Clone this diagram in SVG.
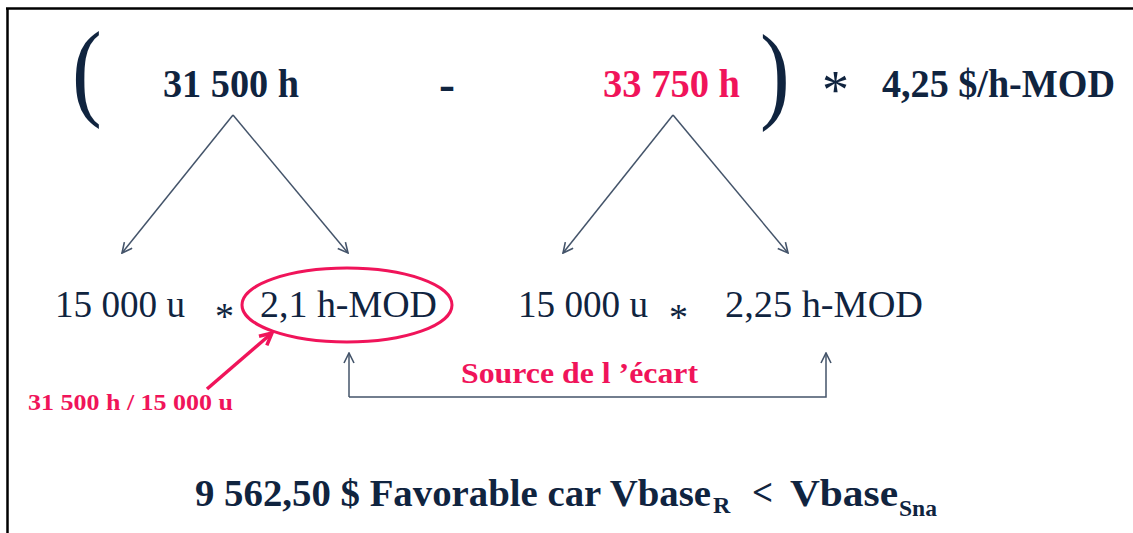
<svg xmlns="http://www.w3.org/2000/svg" width="1133" height="533" viewBox="0 0 1133 533">
<defs>
<style>
.t{font-family:"Liberation Serif","Times New Roman",serif;fill:#10243f}
.b{font-weight:bold}
.p{fill:#f0145a}
.con{fill:none;stroke:#44546a;stroke-width:1.5}
</style>
<marker id="ah" viewBox="0 0 12 12" refX="11" refY="6" markerWidth="12" markerHeight="12" markerUnits="userSpaceOnUse" orient="auto">
<path d="M1,1 L11,6 L1,11" fill="none" stroke="#44546a" stroke-width="1.6"/>
</marker>
<marker id="ahp" viewBox="0 0 16 16" refX="14" refY="8" markerWidth="16" markerHeight="16" markerUnits="userSpaceOnUse" orient="auto">
<path d="M2,2 L14,8 L2,14" fill="none" stroke="#f0145a" stroke-width="3.5"/>
</marker>
</defs>
<rect width="1133" height="533" fill="#ffffff"/>
<g id="frame">
<line x1="7.5" y1="8" x2="7.5" y2="533" stroke="#000" stroke-width="2.5"/>
<line x1="6" y1="8.5" x2="1133" y2="8.5" stroke="#000" stroke-width="2.5"/>
</g>
<g id="top-row">
<text class="t" transform="translate(72,0) scale(0.82,1)" x="0" y="106" font-size="109">(</text>
<text id="n-31500" class="t b" x="163" y="97" font-size="40" textLength="136" lengthAdjust="spacingAndGlyphs">31 500 h</text>
<text class="t b" x="439" y="100" font-size="48">-</text>
<text id="n-33750" class="t b p" x="603" y="97" font-size="40" textLength="137" lengthAdjust="spacingAndGlyphs">33 750 h</text>
<text class="t" transform="translate(760,0) scale(0.82,1)" x="0" y="109" font-size="109">)</text>
<text class="t" x="822" y="108" font-size="54">*</text>
<text id="n-rate" class="t b" x="882" y="97" font-size="40" textLength="233" lengthAdjust="spacingAndGlyphs">4,25 $/h-MOD</text>
</g>
<g id="left-row">
<text id="n-qty-r" class="t" x="55" y="317" font-size="38" textLength="130" lengthAdjust="spacingAndGlyphs">15 000 u</text>
<text class="t" x="215" y="329" font-size="38">*</text>
<text id="n-hr-r" class="t" x="260" y="317" font-size="38" textLength="177" lengthAdjust="spacingAndGlyphs">2,1 h-MOD</text>
<ellipse cx="347" cy="305" rx="105" ry="37" fill="none" stroke="#f0145a" stroke-width="3"/>
</g>
<g id="right-row">
<text id="n-qty-s" class="t" x="518" y="317" font-size="38" textLength="130" lengthAdjust="spacingAndGlyphs">15 000 u</text>
<text class="t" x="669" y="330" font-size="38">*</text>
<text id="n-hr-s" class="t" x="725" y="317" font-size="38" textLength="198" lengthAdjust="spacingAndGlyphs">2,25 h-MOD</text>
</g>
<g id="note">
<text class="t b p" x="28" y="410" font-size="23" textLength="205" lengthAdjust="spacingAndGlyphs">31 500 h / 15 000 u</text>
</g>
<g id="source">
<text class="t b p" x="461" y="383" font-size="30" textLength="237" lengthAdjust="spacingAndGlyphs">Source de l ’écart</text>
</g>
<g id="result">
<text class="t b" x="195" y="506" font-size="37" textLength="516" lengthAdjust="spacingAndGlyphs">9 562,50 $ Favorable  car Vbase</text>
<text class="t b" x="713" y="513" font-size="24">R</text>
<text class="t b" x="752" y="505" font-size="37">&lt;</text>
<text class="t b" x="790" y="506" font-size="37" textLength="108" lengthAdjust="spacingAndGlyphs">Vbase</text>
<text class="t b" x="899" y="516" font-size="24" textLength="38" lengthAdjust="spacingAndGlyphs">Sna</text>
</g>
<g id="connectors">
<line class="con" x1="233" y1="115" x2="122" y2="253" marker-end="url(#ah)"/>
<line class="con" x1="233" y1="115" x2="348" y2="253" marker-end="url(#ah)"/>
<line class="con" x1="673" y1="115" x2="563" y2="253" marker-end="url(#ah)"/>
<line class="con" x1="673" y1="115" x2="788" y2="253" marker-end="url(#ah)"/>
<path class="con" d="M349,397 V353" marker-end="url(#ah)"/>
<path class="con" d="M349,397 H826 V353" marker-end="url(#ah)"/>
<line x1="207" y1="389" x2="272" y2="333" stroke="#f0145a" stroke-width="3.5" marker-end="url(#ahp)"/>
</g>
</svg>
